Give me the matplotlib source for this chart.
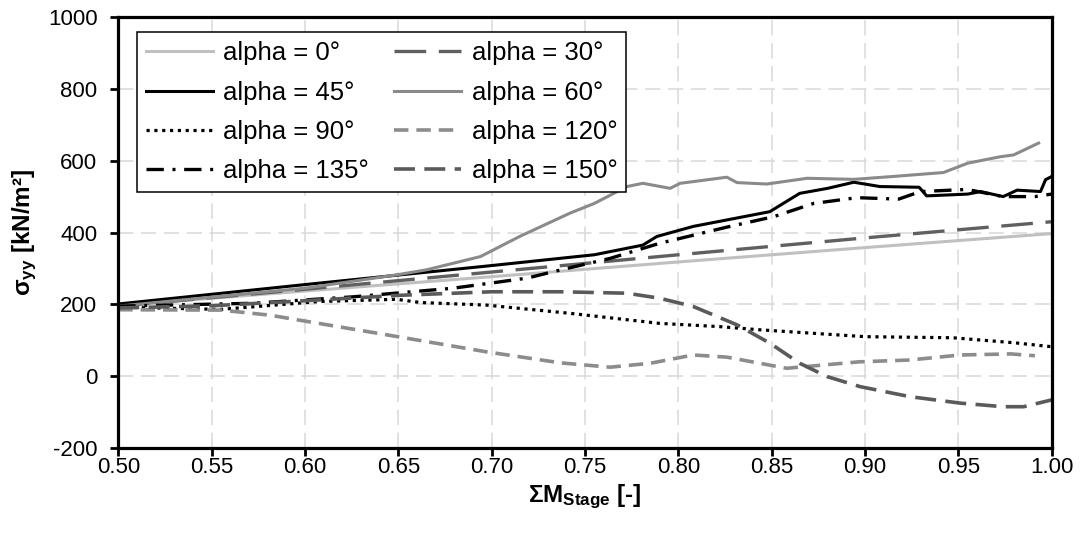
import matplotlib
matplotlib.use("Agg")
import matplotlib.pyplot as plt
from matplotlib.ticker import FormatStrFormatter

plt.rcParams['font.family'] = ['Liberation Sans', 'DejaVu Sans']
plt.rcParams['mathtext.fontset'] = 'custom'
plt.rcParams['mathtext.rm'] = 'Liberation Sans'
plt.rcParams['mathtext.bf'] = 'Liberation Sans:bold'
plt.rcParams['mathtext.it'] = 'Liberation Sans:italic'
plt.rcParams['axes.unicode_minus'] = False

# Stress sigma_yy [kN/m2] over the summed stage multiplier, one series per angle
x_a0 = [0.50, 0.60, 0.70, 0.80, 0.90, 1.00]
y_a0 = [197, 237, 277, 318, 358, 397]

x_a30 = [0.50, 0.60, 0.70, 0.742, 0.80, 0.90, 0.962, 1.00]
y_a30 = [195, 242, 290, 310, 338, 385, 413, 430]

x_a45 = [0.50, 0.60, 0.70, 0.742, 0.755, 0.781, 0.7885, 0.808, 0.849, 0.865,
         0.880, 0.894, 0.908, 0.929, 0.933, 0.955, 0.962, 0.974, 0.9815,
         0.994, 0.9967, 1.00]
y_a45 = [201, 255, 308, 331, 338, 365, 389, 417, 458, 509,
         523, 540, 528, 526, 502, 507, 514, 500, 518,
         514, 547, 556]

x_a60 = [0.50, 0.60, 0.649, 0.665, 0.694, 0.715, 0.742, 0.755, 0.7725, 0.781,
         0.7956, 0.801, 0.826, 0.8314, 0.8474, 0.869, 0.894, 0.915, 0.942,
         0.955, 0.9725, 0.9796, 0.993]
y_a60 = [195, 245, 282, 296, 333, 389, 454, 481, 528, 537,
         523, 537, 554, 539, 535, 551, 548, 556, 567,
         593, 611, 616, 649]

x_a90 = [0.50, 0.555, 0.608, 0.649, 0.662, 0.697, 0.742, 0.790, 0.822, 0.844,
         0.900, 0.947, 0.980, 1.00]
y_a90 = [192, 186, 208, 214, 205, 198, 175, 147, 138, 129,
         110, 107, 93, 82]

x_a120 = [0.50, 0.555, 0.581, 0.644, 0.697, 0.737, 0.7635, 0.785, 0.808, 0.826,
          0.858, 0.897, 0.924, 0.951, 0.978, 0.991]
y_a120 = [185, 184, 170, 115, 68, 37, 25, 36, 59, 53,
          22, 40, 45, 59, 62, 57]

x_a135 = [0.50, 0.572, 0.626, 0.6795, 0.719, 0.733, 0.7635, 0.790, 0.826, 0.851,
          0.8725, 0.8957, 0.918, 0.9297, 0.9547, 0.974, 0.991, 1.00]
y_a135 = [195, 203, 221, 245, 273, 291, 328, 370, 415, 444,
          481, 497, 493, 514, 520, 500, 500, 507]

x_a150 = [0.50, 0.55, 0.60, 0.65, 0.70, 0.7366, 0.7725, 0.790, 0.808, 0.8314,
          0.849, 0.865, 0.8796, 0.8973, 0.924, 0.951, 0.974, 0.985, 1.00]
y_a150 = [190, 196, 210, 225, 235, 235, 231, 217, 194, 143,
          92, 36, -1, -29, -57, -75, -85, -85, -66]

labels = ['alpha = 0°', 'alpha = 30°', 'alpha = 45°', 'alpha = 60°',
          'alpha = 90°', 'alpha = 120°', 'alpha = 135°', 'alpha = 150°']

x_ticks = [0.50, 0.55, 0.60, 0.65, 0.70, 0.75, 0.80, 0.85, 0.90, 0.95, 1.00]
y_ticks = [-200, 0, 200, 400, 600, 800, 1000]

fig = plt.figure(figsize=(10.83, 5.35), dpi=100)
ax = fig.add_axes([0.1092, 0.1626, 0.8619, 0.8056])

series = [
    (x_a0, y_a0, dict(color='#c0c0c0', lw=2.2, ls='-')),
    (x_a30, y_a30, dict(color='#606060', lw=2.4, ls=(0, (9.5, 3.8)))),
    (x_a45, y_a45, dict(color='#000000', lw=2.2, ls='-')),
    (x_a60, y_a60, dict(color='#8a8a8a', lw=2.2, ls='-')),
    (x_a90, y_a90, dict(color='#000000', lw=2.3, ls=(0, (1, 1.45)))),
    (x_a120, y_a120, dict(color='#8c8c8c', lw=2.6, ls=(0, (4.0, 2.2)))),
    (x_a135, y_a135, dict(color='#000000', lw=2.4, ls=(0, (5.2, 2.6, 0.9, 2.6)))),
    (x_a150, y_a150, dict(color='#5a5a5a', lw=2.6, ls=(0, (5.8, 2.6)))),
]
handles = []
for (xs, ys, st), lab in zip(series, labels):
    h, = ax.plot(xs, ys, label=lab, **st)
    handles.append(h)

ax.set_xlim(0.5, 1.0)
ax.set_ylim(-200, 1000)
ax.set_xticks(x_ticks)
ax.set_yticks(y_ticks)
ax.xaxis.set_major_formatter(FormatStrFormatter('%.2f'))
ax.grid(True, color='#d9d9d9', lw=1.1, ls=(0, (10, 5)))
ax.set_axisbelow(True)
for sp in ax.spines.values():
    sp.set_linewidth(2.3)
ax.tick_params(axis='both', direction='out', length=5.5, width=2.0,
               labelsize=16, color='black')
ax.tick_params(axis='y', pad=9.5)
ax.tick_params(axis='x', pad=1)

ax.set_xlabel(r'$\mathbf{\Sigma M_{Stage}}$ [-]', fontsize=17.5, fontweight='bold', labelpad=3)
ax.set_ylabel(r'$\mathbf{\sigma_{yy}}$ [kN/m²]', fontsize=17.5, fontweight='bold', labelpad=6)

# legend filled row by row: two entries per row
order = [0, 2, 4, 6, 1, 3, 5, 7]
leg = ax.legend([handles[i] for i in order], [labels[i] for i in order],
                ncol=2, loc='upper left', bbox_to_anchor=(0.02, 0.965),
                borderaxespad=0, fontsize=18.5, handlelength=2.6,
                handletextpad=0.4, columnspacing=1.0, labelspacing=0.6,
                borderpad=0.35, fancybox=False, framealpha=1,
                edgecolor='black')
leg.get_frame().set_linewidth(1.1)

fig.savefig('out.png', dpi=100)
